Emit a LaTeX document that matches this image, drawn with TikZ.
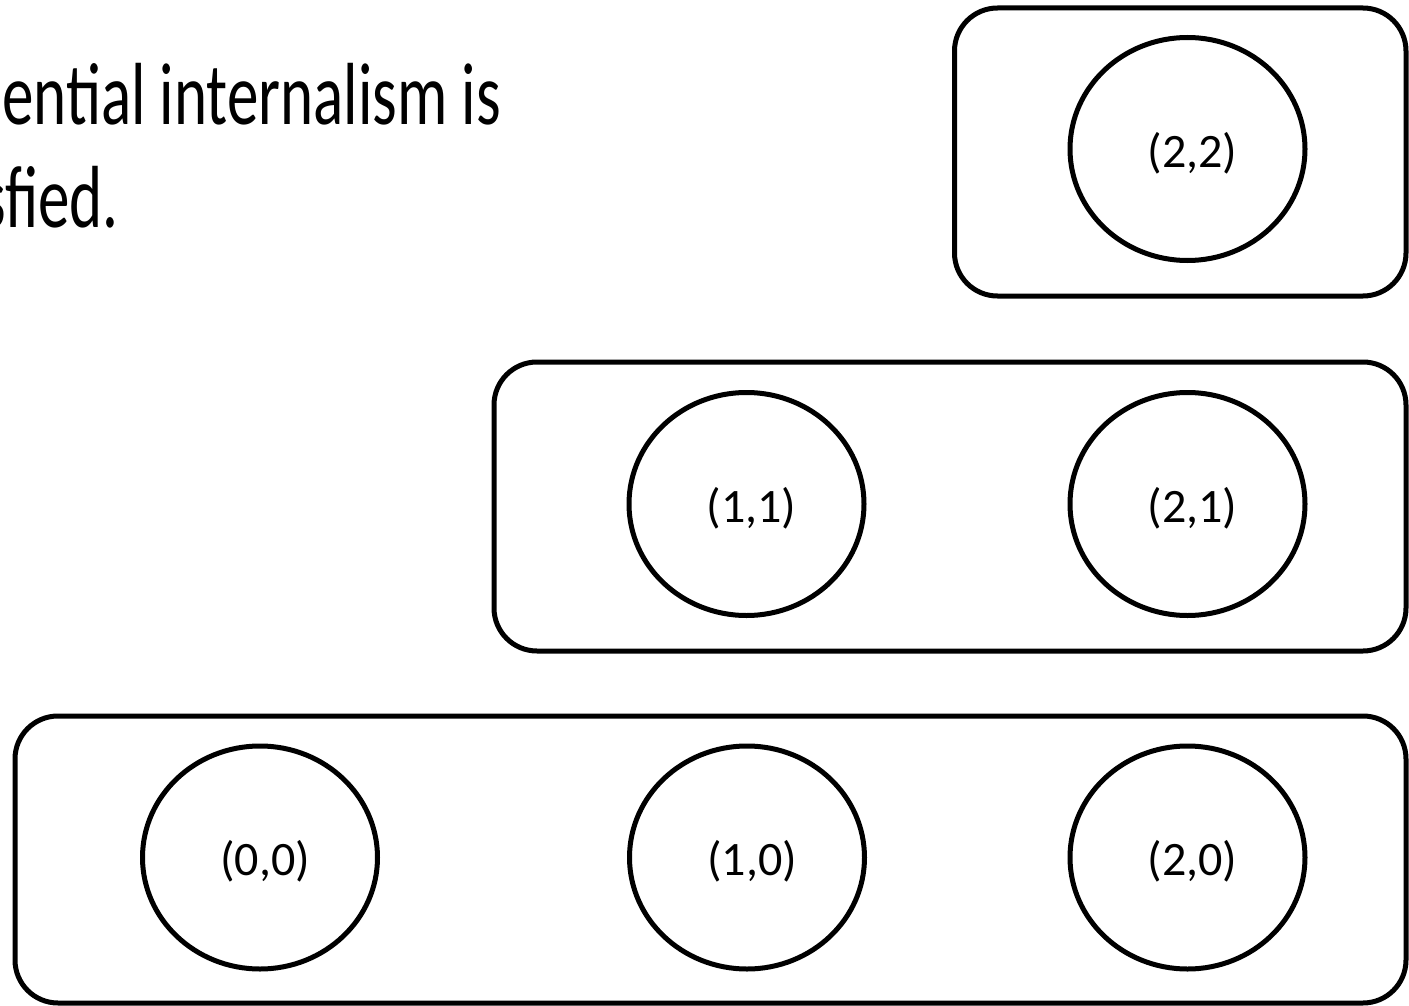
\documentclass[tikz,border=0pt]{standalone}
\usepackage{fontspec}
\setmainfont{Carlito}
\usepackage{graphicx}
\usetikzlibrary{shapes.geometric}
\begin{document}
\begin{tikzpicture}[x=1pt,y=-1pt,
  groupbox/.style={draw=black,line width=5pt,rounded corners=43pt,rectangle,inner sep=0pt},
  pointell/.style={draw=black,line width=5pt,ellipse,inner sep=0pt,minimum width=235pt,minimum height=223pt},
  ptlabel/.style={font=\fontsize{48}{58}\selectfont},
  headline/.style={font=\fontsize{84}{102}\selectfont,inner sep=0pt}]
\useasboundingbox (0,0) rectangle (1409,1006);
\fill[white] (0,0) rectangle (1409,1006);
% text
\node[headline,anchor=base west] (t1) at (2,125) {\scalebox{0.75}[1.05]{ential internalism is}};
\node[headline,anchor=base east] (t2) at (119,227) {\scalebox{0.75}[1.05]{sfied.}};
% boxes
\node[groupbox,minimum width=451.5pt,minimum height=288pt] (top) at (1180.25,152) {};
\node[groupbox,minimum width=912pt,minimum height=289pt] (mid) at (950,506.5) {};
\node[groupbox,minimum width=1391pt,minimum height=287pt] (bot) at (710.5,859.5) {};
% ellipses
\node[pointell,label={[ptlabel,xshift=5pt,yshift=-4pt]center:(2,2)}] (e22) at (1187.5,149) {};
\node[pointell,label={[ptlabel,xshift=5pt,yshift=-4pt]center:(1,1)}] (e11) at (746.5,504) {};
\node[pointell,label={[ptlabel,xshift=5pt,yshift=-4pt]center:(2,1)}] (e21) at (1187.5,504) {};
\node[pointell,label={[ptlabel,xshift=5pt,yshift=-4pt]center:(0,0)}] (e00) at (260,857.5) {};
\node[pointell,label={[ptlabel,xshift=5pt,yshift=-4pt]center:(1,0)}] (e10) at (747,857.5) {};
\node[pointell,label={[ptlabel,xshift=5pt,yshift=-4pt]center:(2,0)}] (e20) at (1187.5,857.5) {};
\end{tikzpicture}
\end{document}
